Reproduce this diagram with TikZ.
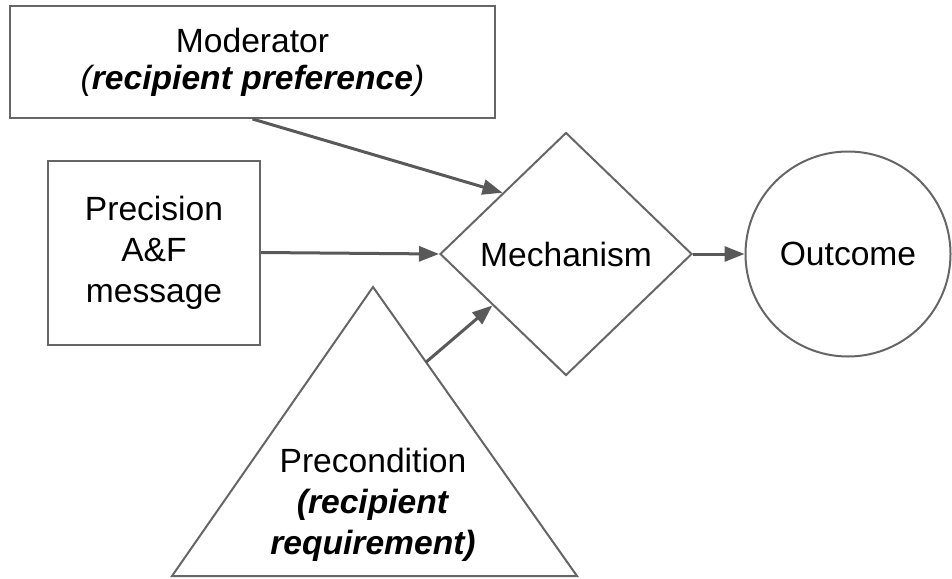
\documentclass[tikz,border=0pt]{standalone}
\usepackage{fontspec}
\setmainfont{Liberation Sans}
\usetikzlibrary{shapes.geometric,arrows.meta,calc}
\definecolor{frame}{HTML}{666666}
\definecolor{arrowc}{HTML}{595959}
\begin{document}
\begin{tikzpicture}[x=0.5pt,y=-0.5pt,
  every node/.style={font=\fontsize{16.8pt}{20.5pt}\selectfont, align=center, text=black},
  shapebox/.style={draw=frame, line width=1pt, inner sep=0pt},
  conn/.style={draw=arrowc, line width=1.5pt, -{Triangle[length=10pt,width=7.5pt]}, shorten >=0pt}]
\useasboundingbox (0,0) rectangle (952,578);
\node[shapebox, rectangle, minimum width=242.5pt, minimum height=56pt, font=\fontsize{16.8pt}{18.5pt}\selectfont] (mod) at (252.5,62) {Moderator\\\textit{(\textbf{recipient preference})}};
\node[shapebox, rectangle, minimum width=106pt, minimum height=92pt] (prec) at (154,252.5) {Precision\\A\&F\\message};
\node[shapebox, diamond, minimum width=126pt, minimum height=121.5pt, aspect=1] (mech) at (566,254) {Mechanism};
\node[shapebox, circle, minimum size=102.5pt] (out) at (848,254) {Outcome};
\coordinate (apex) at (373,287);
\coordinate (bl) at (172,576);
\coordinate (br) at (577,576);
\draw[draw=frame, line width=1pt, line join=miter] (apex) -- (bl) -- (br) -- cycle;
\node (precond) at (373,505) {Precondition\\\textit{\textbf{(recipient}}\\\textit{\textbf{requirement)}}};
\coordinate (tside) at ($(apex)!0.26!(br)$);
\draw[conn] (mod.south) -- (mech.north west);
\draw[conn] (prec.east) -- (mech.west);
\draw[conn] (tside) -- ($(mech.west)!0.42!(mech.south)$);
\draw[conn] (mech.east) -- (out.west);
\end{tikzpicture}
\end{document}
